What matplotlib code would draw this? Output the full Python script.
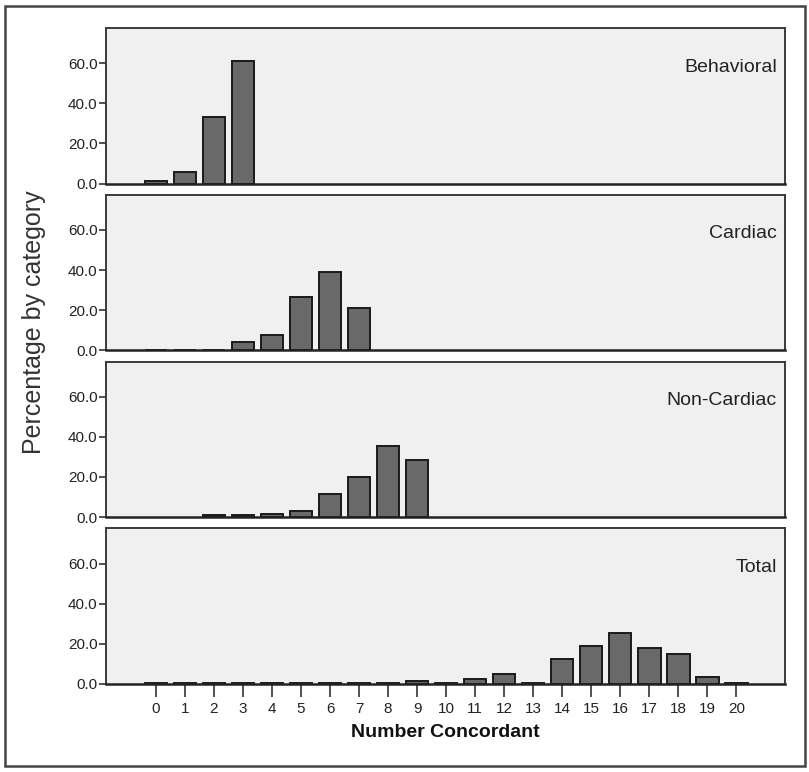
import matplotlib
matplotlib.use('Agg')
from matplotlib import pyplot as plt
from matplotlib.patches import Rectangle

plt.rcParams['font.family'] = ['Liberation Sans', 'DejaVu Sans']

# categorias y valores (porcentaje por categoria)
concordantes = list(range(21))
paneles = ['Behavioral', 'Cardiac', 'Non-Cardiac', 'Total']

behavioral = [1.0, 5.5, 33.0, 61.0] + [None] * 17
cardiac = [0.3, 0.3, 0.3, 4.2, 7.7, 26.7, 39.2, 21.0] + [None] * 13
non_cardiac = [None, None, 0.8, 1.0, 1.5, 3.0, 11.3, 19.8, 35.2, 28.5] + [None] * 11
total = [0.3, 0.3, 0.3, 0.3, 0.3, 0.3, 0.3, 0.3, 0.3, 1.3, 0.3,
         2.2, 5.0, 0.3, 12.2, 18.8, 25.5, 17.7, 14.7, 3.5, 0.3]

series = [behavioral, cardiac, non_cardiac, total]
yticks = [0, 20, 40, 60]

W, H = 809, 772
fig = plt.figure(figsize=(W / 100, H / 100), dpi=100)

# marco exterior
fig.patches.append(Rectangle((5 / W, 6 / H), 800 / W, 760 / H,
                             transform=fig.transFigure, fill=False,
                             edgecolor='#444444', linewidth=1.8))

izq, der = 106, 785
for i, (nombre, datos) in enumerate(zip(paneles, series)):
    top = 28 + i * 166.8
    ax = fig.add_axes([izq / W, (H - top - 155.5) / H, (der - izq) / W, 155.5 / H])
    ax.set_facecolor('#f0f0f0')

    xs = [x for x, v in zip(concordantes, datos) if v is not None]
    vs = [v for v in datos if v is not None]
    ax.bar(xs, vs, width=0.78, color='#696969', edgecolor='#1a1a1a', linewidth=1.4)

    ax.set_xlim(-1.72, 21.68)
    ax.set_ylim(0, 77.5)
    ax.set_yticks(yticks)
    ax.set_yticklabels([f'{t:.1f}' for t in yticks], fontsize=11, color='#222222')
    ax.tick_params(axis='y', length=5, width=1.2, pad=1, color='#333333')

    for s in ax.spines.values():
        s.set_color('#3a3a3a')
        s.set_linewidth(1.4)
    ax.spines['bottom'].set_linewidth(1.8)
    ax.spines['bottom'].set_color('#222222')

    ax.text(1 - 8 / (der - izq), 58, nombre, transform=ax.get_yaxis_transform(),
            ha='right', va='center', fontsize=14, color='#222222')

    if i < 3:
        ax.set_xticks([])
    else:
        ax.set_xticks(concordantes)
        ax.set_xticklabels([str(c) for c in concordantes], fontsize=11, color='#222222')
        ax.tick_params(axis='x', length=9, width=1.2, pad=4, color='#333333')
        ax.set_xlabel('Number Concordant', fontsize=14, fontweight='bold',
                      color='#111111', labelpad=6)

fig.text(34 / W, 1 - 322 / H, 'Percentage by category', rotation=90,
         ha='center', va='center', fontsize=18, color='#333333')

fig.savefig('out.png', dpi=100)
